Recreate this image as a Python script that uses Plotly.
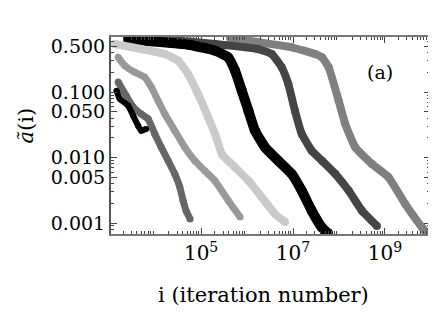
import plotly.graph_objects as go

# ---- data ----
iA = [1.44e3, 1.71e3, 2.59e3, 3.33e3, 4.27e3, 4.96e3, 6.37e3]
aA = [0.105, 0.078, 0.0618, 0.0434, 0.0305, 0.0256, 0.0272]

iB = [1.57e3, 2.34e3, 3.33e3, 4.96e3, 7.05e3, 9.84e3, 1.35e4, 1.92e4, 2.68e4,
      3.44e4, 4.06e4, 4.72e4, 5.77e4]
aB = [0.142, 0.0879, 0.059, 0.0461, 0.0387, 0.0229, 0.0145, 0.00893, 0.0056,
      0.00355, 0.00219, 0.00154, 0.00115]

iC = [1.57e3, 2.19e3, 3.62e3, 5.97e3, 8.32e3, 1.16e4, 1.63e4, 2.68e4, 4.43e4,
      7.29e4, 1.20e5, 1.99e5, 3.92e5, 7.05e5]
aC = [0.339, 0.252, 0.200, 0.168, 0.118, 0.0736, 0.0461, 0.0256, 0.0143,
      0.00893, 0.00628, 0.00443, 0.00219, 0.00124]

iD = [1.33e3, 4.96e3, 1.63e4, 3.16e4, 5.21e4, 8.61e4, 1.42e5, 2.12e5, 2.82e5,
      5.48e5, 1.07e6, 2.09e6, 4.06e6, 6.70e6]
aD = [0.541, 0.453, 0.380, 0.301, 0.188, 0.0931, 0.0411, 0.0206, 0.0113,
      0.00708, 0.00443, 0.00247, 0.00137, 0.00104]

iE = [2.59e3, 1.29e4, 5.77e4, 2.01e5, 3.86e5, 5.48e5, 7.67e5, 1.07e6, 1.49e6,
      2.46e6, 4.79e6, 9.38e6, 1.55e7, 2.55e7, 4.21e7, 5.77e7]
aE = [0.622, 0.580, 0.522, 0.428, 0.339, 0.211, 0.105, 0.0519, 0.0256,
      0.0143, 0.00893, 0.0056, 0.00311, 0.00154, 0.00086, 0.0007]

iF = [7.78e3, 2.01e5, 1.73e6, 3.44e6, 5.68e6, 7.91e6, 1.10e7, 1.55e7, 2.55e7,
      4.27e7, 8.32e7, 1.63e8, 3.16e8, 6.70e8]
aF = [0.667, 0.541, 0.453, 0.380, 0.238, 0.132, 0.0519, 0.0229, 0.0127,
      0.00893, 0.0056, 0.00311, 0.00154, 0.0009]

iG = [4.27e5, 9.38e6, 3.01e7, 4.27e7, 5.97e7, 9.84e7, 1.37e8, 2.26e8, 5.21e8,
      1.20e9, 2.76e9, 6.37e9, 7.41e9]
aG = [0.667, 0.481, 0.380, 0.339, 0.238, 0.0736, 0.0324, 0.0143, 0.00796,
      0.00499, 0.00195, 0.00086, 0.00076]

y_tickvals = [0.001, 0.005, 0.01, 0.05, 0.1, 0.5]
y_ticktext = ["0.001", "0.005", "0.010", "0.050", "0.100", "0.500"]
x_tickvals = [1e5, 1e7, 1e9]
x_ticktext = ["10<sup>5</sup>", "10<sup>7</sup>", "10<sup>9</sup>"]

series = [
    (iG, aG, "#808080", 8),
    (iF, aF, "#454545", 8),
    (iE, aE, "#000000", 10),
    (iD, aD, "#cacaca", 8),
    (iC, aC, "#999999", 7),
    (iB, aB, "#666666", 7),
    (iA, aA, "#000000", 6),
]

fig = go.Figure()
for xs, ys, col, w in series:
    fig.add_trace(go.Scatter(
        x=xs, y=ys, mode="lines+markers",
        line=dict(color=col, width=w, shape="spline", smoothing=0.4),
        marker=dict(color=col, size=w),
        showlegend=False, hoverinfo="skip", cliponaxis=True,
    ))

minor_x = [m * 10 ** e for e in range(3, 10) for m in range(2, 10)]
minor_y = [m * 10 ** e for e in range(-4, 0) for m in range(1, 10)]
minor_y = [v for v in minor_y if v not in y_tickvals]

font = "DejaVu Serif"
fig.update_layout(
    width=436, height=314,
    # the page body adds an 8px offset, compensated here
    margin=dict(l=103, r=14, t=29, b=88, autoexpand=False),
    paper_bgcolor="white", plot_bgcolor="white",
    font=dict(family=font, size=19, color="black"),
    xaxis=dict(
        type="log", range=[3.04, 9.98], automargin=False,
        tickvals=x_tickvals, ticktext=x_ticktext,
        ticks="inside", ticklen=6, tickcolor="#444",
        minor=dict(tickvals=minor_x, ticks="inside", ticklen=3, tickcolor="#444"),
        showgrid=False, zeroline=False,
        showline=True, linecolor="#777", linewidth=2, mirror="ticks",
        tickfont=dict(family=font, size=20),
    ),
    yaxis=dict(
        type="log", range=[-3.168, -0.16], automargin=False,
        tickvals=y_tickvals, ticktext=y_ticktext,
        ticks="inside", ticklen=6, tickcolor="#444",
        minor=dict(tickvals=minor_y, ticks="inside", ticklen=3, tickcolor="#444"),
        showgrid=False, zeroline=False,
        showline=True, linecolor="#555", linewidth=2, mirror="ticks",
        tickfont=dict(family=font, size=19),
    ),
    annotations=[
        dict(x=0.843, y=0.822, xref="paper", yref="paper", text="(a)",
             xanchor="center", yanchor="middle",
             showarrow=False, font=dict(family=font, size=19, color="black")),
        dict(x=0.5, y=0, xref="paper", yref="paper", text="i (iteration number)",
             xanchor="center", yanchor="middle", xshift=-7, yshift=-61,
             showarrow=False, font=dict(family=font, size=21, color="black")),
        dict(x=0, y=0.5, xref="paper", yref="paper", text="<i>ã</i>(i)",
             textangle=-90, xanchor="center", yanchor="middle", xshift=-86, yshift=10,
             showarrow=False, font=dict(family=font, size=21, color="black")),
    ],
)

fig.write_html("out.html")
